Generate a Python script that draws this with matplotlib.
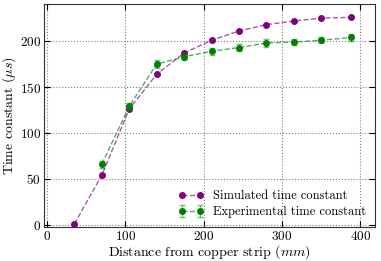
import matplotlib
matplotlib.use("Agg")
import matplotlib.pyplot as plt

plt.rcParams["font.family"] = "cmr10"
plt.rcParams["mathtext.fontset"] = "cm"
plt.rcParams["axes.unicode_minus"] = False
plt.rcParams["axes.formatter.use_mathtext"] = True

# simulated
x_sim = [35, 70, 105, 140, 175, 210, 245, 280, 315, 350, 388]
y_sim = [1, 54, 126, 164, 187, 201, 211, 218, 222, 225, 226]

# measured
x_exp = [70, 105, 140, 175, 210, 245, 280, 315, 350, 388]
y_exp = [66, 129, 175, 183, 189, 193, 198, 199, 201, 204]
y_err = [4, 4, 4, 4, 4, 4, 4, 3, 3, 4]

fig, ax = plt.subplots(figsize=(3.81, 2.61), dpi=100)

ax.plot(x_sim, y_sim, "o--", color=(0.5, 0, 0.5, 0.65), mfc="purple", mec="purple",
        ms=4, lw=1, label="Simulated time constant")
ax.errorbar(x_exp, y_exp, yerr=y_err, fmt="o--", color=(0, 0.5, 0, 0.65), mfc="green",
            mec="green", ecolor=(0, 0.5, 0, 0.5), capsize=2, ms=4, lw=1,
            label="Experimental time constant")

ax.set_xlim(-4, 419)
ax.set_ylim(-2.5, 240)
ax.set_xticks([0, 100, 200, 300, 400])
ax.set_yticks([0, 50, 100, 150, 200])
ax.grid(True, linestyle=":", color="gray", lw=0.8)
ax.tick_params(direction="in", top=True, right=True, labelsize=9.5, length=4, pad=2)
for s in ax.spines.values():
    s.set_color("#333333")

ax.set_xlabel("Distance from copper strip ($mm$)", fontsize=10, labelpad=0)
ax.set_ylabel(r"Time constant ($\mu s$)", fontsize=10, labelpad=1)
ax.legend(loc="lower right", frameon=False, fontsize=9, numpoints=2,
          handlelength=2.0, borderaxespad=0.3, labelspacing=0.3)

fig.subplots_adjust(left=0.115, right=0.985, top=0.983, bottom=0.13)
fig.savefig("out.png", dpi=100)
